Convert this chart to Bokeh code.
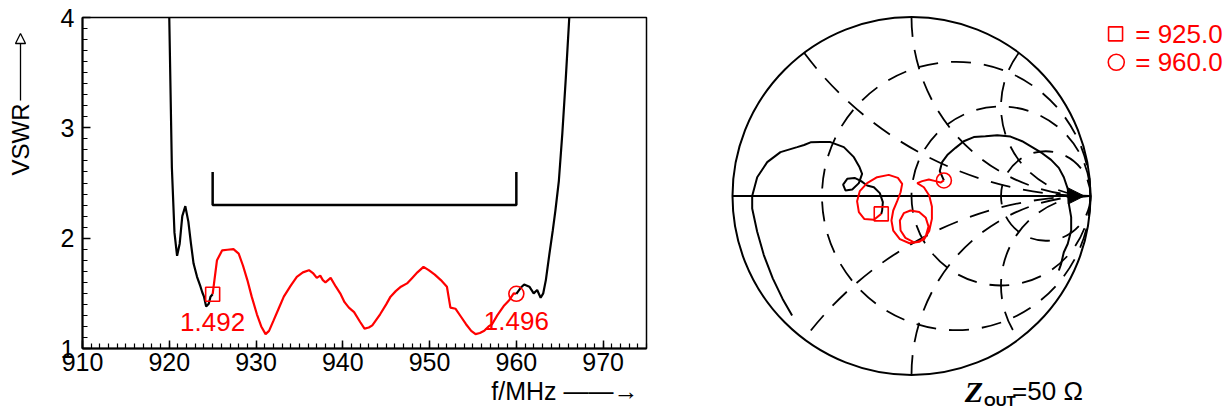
import numpy as np
from bokeh.plotting import figure
from bokeh.layouts import row
from bokeh.models import Range1d, FixedTicker, Title, Arrow, NormalHead
from bokeh.core.properties import value
from bokeh.embed import file_html
from bokeh.resources import INLINE

# ---------------- data: VSWR vs frequency ----------------
black_lo_f = [920.0, 920.3, 920.6, 920.9, 921.2, 921.5, 921.85, 922.2, 922.5, 922.8,
              923.2, 923.6, 923.8, 924.0, 924.25, 924.55, 924.75, 925.0]
black_lo_v = [4.0, 2.64, 2.05, 1.84, 1.95, 2.2, 2.29, 2.15, 1.95, 1.77,
              1.65, 1.56, 1.51, 1.47, 1.38, 1.405, 1.47, 1.492]

red_f = [925.0, 925.5, 926.1, 926.7, 927.4, 928.0, 928.5, 929.0, 929.5, 930.1,
         930.6, 931.1, 931.5, 932.0, 932.6, 933.2, 934.0, 934.7, 935.4, 936.1,
         936.6, 937.0, 937.4, 937.7, 938.0, 938.6, 939.2, 939.7, 940.2, 940.7,
         941.3, 942.0, 942.5, 943.0, 943.4, 944.3, 945.0, 945.5, 946.1, 946.7,
         947.4, 948.0, 948.6, 949.3, 949.9, 950.6, 951.3, 952.0, 952.4, 953.0,
         953.6, 954.2, 954.8, 955.3, 955.8, 956.3, 956.8, 957.2, 957.8, 958.6,
         959.2, 959.7, 960.0]
red_v = [1.492, 1.80, 1.89, 1.895, 1.90, 1.86, 1.75, 1.62, 1.47, 1.31,
         1.20, 1.13, 1.16, 1.25, 1.36, 1.47, 1.57, 1.65, 1.69, 1.71,
         1.68, 1.64, 1.66, 1.62, 1.60, 1.64, 1.56, 1.50, 1.42, 1.37,
         1.33, 1.24, 1.18, 1.19, 1.21, 1.31, 1.40, 1.47, 1.52, 1.56,
         1.59, 1.64, 1.69, 1.74, 1.71, 1.67, 1.62, 1.56, 1.37, 1.36,
         1.29, 1.22, 1.16, 1.13, 1.14, 1.16, 1.20, 1.22, 1.30, 1.39,
         1.44, 1.50, 1.496]

black_hi_f = [960.0, 960.5, 960.9, 961.5, 962.0, 962.4, 962.8, 963.1, 963.4, 963.8,
              964.2, 964.5, 964.9, 965.3, 965.7, 966.1]
black_hi_v = [1.496, 1.55, 1.58, 1.56, 1.50, 1.53, 1.46, 1.50, 1.62, 1.85,
              2.07, 2.25, 2.52, 2.95, 3.45, 4.0]

spec_f = [925, 925, 960, 960]
spec_v = [2.6, 2.3, 2.3, 2.6]

marker_f = [925.0, 960.0]
marker_v = [1.492, 1.496]
marker_labels = ["1.492", "1.496"]

x_ticks = [910, 920, 930, 940, 950, 960, 970]
y_ticks = [1, 2, 3, 4]

# ---------------- data: Smith chart (reflection coefficient) ----------------
smith_lo_re = [-0.667, -0.720, -0.775, -0.825, -0.862, -0.890, -0.890, -0.862, -0.806, -0.732,
               -0.639, -0.600, -0.564, -0.508, -0.453, -0.378, -0.322, -0.290, -0.276, -0.294,
               -0.331, -0.369, -0.382, -0.359, -0.318, -0.281, -0.248, -0.210, -0.177, -0.160,
               -0.164, -0.169]
smith_lo_im = [-0.668, -0.575, -0.460, -0.330, -0.200, -0.070, 0.000, 0.105, 0.189, 0.245,
               0.273, 0.285, 0.300, 0.301, 0.301, 0.273, 0.217, 0.160, 0.124, 0.072,
               0.036, 0.031, 0.064, 0.096, 0.101, 0.083, 0.059, 0.049, 0.016, -0.034,
               -0.081, -0.100]

smith_red_re = [-0.169, -0.210, -0.263, -0.294, -0.304, -0.289, -0.248, -0.192, -0.127, -0.076,
                -0.052, -0.061, -0.080, -0.102, -0.112, -0.102, -0.065, -0.011, 0.045, 0.080,
                0.095, 0.080, 0.043, -0.006, -0.043, -0.065, -0.061, -0.034, 0.017, 0.069,
                0.099, 0.114, 0.114, 0.099, 0.069, 0.032, 0.060, 0.097, 0.134, 0.162, 0.181]
smith_red_im = [-0.100, -0.133, -0.129, -0.090, -0.029, 0.027, 0.072, 0.105, 0.118, 0.101,
                0.068, 0.021, -0.029, -0.081, -0.137, -0.193, -0.241, -0.264, -0.256, -0.223,
                -0.170, -0.122, -0.090, -0.081, -0.096, -0.137, -0.193, -0.234, -0.260, -0.245,
                -0.196, -0.128, -0.059, 0.003, 0.049, 0.072, 0.083, 0.092, 0.083, 0.075, 0.087]

smith_hi_re = [0.181, 0.158, 0.171, 0.203, 0.246, 0.292, 0.348, 0.413, 0.479, 0.553,
               0.618, 0.674, 0.730, 0.780, 0.823, 0.851, 0.873, 0.879, 0.892, 0.892,
               0.873, 0.851, 0.836, 0.823]
smith_hi_im = [0.087, 0.139, 0.189, 0.232, 0.269, 0.306, 0.329, 0.334, 0.340, 0.332,
               0.306, 0.273, 0.239, 0.202, 0.157, 0.105, 0.040, -0.044, -0.118, -0.193,
               -0.267, -0.314, -0.379, -0.416]

r_values = [1 / 3, 1.0, 3.0]
x_values = [0.5, 1.0, 2.0]
legend_freqs = [925.0, 960.0]
z_ref = 50

RED = "#ff0000"
FONT = "Liberation Sans"
H = 408

# ---------------- caption strip for the y-axis name ----------------
lab = figure(width=44, height=H, x_range=Range1d(0, 44), y_range=Range1d(0, H),
             output_backend="svg", toolbar_location=None, x_axis_type=None, y_axis_type=None,
             min_border=0)
lab.grid.visible = False
lab.outline_line_color = None
lab.text(x=[20], y=[H - 139], text=["VSWR"], angle=np.pi / 2, text_align="center",
         text_baseline="middle", text_font=value(FONT), text_font_size="24px", text_color="black")
lab.add_layout(Arrow(x_start=20, y_start=H - 100, x_end=20, y_end=H - 33, line_width=1.3,
                     line_color="black",
                     end=NormalHead(size=10, fill_color="white", line_color="black", line_width=1.3)))

# ---------------- left: VSWR plot ----------------
p = figure(width=646, height=H, x_range=Range1d(910, 975), y_range=Range1d(1, 4),
           output_backend="svg", toolbar_location=None,
           min_border_left=38, min_border_right=44, min_border_top=17, min_border_bottom=60)
p.xgrid.visible = False
p.ygrid.visible = False
p.outline_line_color = "black"
p.outline_line_width = 1.5
p.background_fill_color = "white"
p.border_fill_color = "white"

p.xaxis.ticker = FixedTicker(ticks=x_ticks, minor_ticks=list(np.arange(910, 976, 1)))
p.yaxis.ticker = FixedTicker(ticks=y_ticks, minor_ticks=list(np.round(np.arange(1.0, 4.01, 0.1), 2)))
for ax in (p.xaxis[0], p.yaxis[0]):
    ax.axis_line_width = 2
    ax.axis_line_color = "black"
    ax.major_tick_in = 8
    ax.major_tick_out = 0
    ax.minor_tick_in = 5
    ax.minor_tick_out = 0
    ax.major_tick_line_width = 1.5
    ax.minor_tick_line_width = 1.2
    ax.major_tick_line_color = "black"
    ax.minor_tick_line_color = "black"
    ax.major_label_text_font = FONT
    ax.major_label_text_font_size = "25px"
    ax.major_label_text_color = "black"
p.xaxis.major_label_standoff = 4
p.yaxis.major_label_standoff = 8

p.line(black_lo_f, black_lo_v, line_color="black", line_width=2.2)
p.line(red_f, red_v, line_color=RED, line_width=2.2)
p.line(black_hi_f, black_hi_v, line_color="black", line_width=2.2)
p.line(spec_f, spec_v, line_color="black", line_width=2.5)

p.scatter([marker_f[0]], [marker_v[0]], marker="square", size=14,
          fill_color=None, line_color=RED, line_width=1.6)
p.scatter([marker_f[1]], [marker_v[1]], marker="circle", size=15,
          fill_color=None, line_color=RED, line_width=1.6)
p.text(x=marker_f, y=[v - 0.25 for v in marker_v], text=marker_labels,
       text_align="center", text_baseline="middle", text_color=RED,
       text_font=value(FONT), text_font_size="26px")

p.add_layout(Title(text="f/MHz \u2014\u2014\u2192", align="right", text_font=FONT,
                   text_font_size="25px", text_font_style="normal", text_color="black",
                   standoff=2, offset=8), "below")

# ---------------- right: Smith chart ----------------
s = figure(width=535, height=H, x_range=Range1d(-1.2346, 1.7542), y_range=Range1d(-1.1872, 1.0922),
           output_backend="svg", toolbar_location=None, x_axis_type=None, y_axis_type=None,
           min_border=0)
s.grid.visible = False
s.outline_line_color = None
s.background_fill_color = "white"
s.border_fill_color = "white"

for fig in (lab, p, s):
    try:
        fig.frame_align = False
    except Exception:
        pass

DASH = "20 13"
GRID_W = 1.8
# constant-resistance circles
r_arr = np.array(r_values)
s.circle(x=list(r_arr / (1 + r_arr)), y=[0] * len(r_arr), radius=list(1 / (1 + r_arr)),
         fill_color=None, line_color="black", line_width=GRID_W, line_dash=DASH)
# constant-reactance arcs, starting at the outer circle
xa = np.array(x_values)
gr = (xa ** 2 - 1) / (xa ** 2 + 1)
gi = 2 * xa / (xa ** 2 + 1)
ang_up = np.mod(np.arctan2(gi - 1 / xa, gr - 1), 2 * np.pi)
ang_dn = np.mod(-ang_up, 2 * np.pi)
s.arc(x=[1] * len(xa), y=list(1 / xa), radius=list(1 / xa), start_angle=list(ang_up),
      end_angle=[1.5 * np.pi] * len(xa), direction="anticlock",
      line_color="black", line_width=GRID_W, line_dash=DASH)
unit = xa == 1.0
s.arc(x=[1] * int(unit.sum()), y=list(-1 / xa[unit]), radius=list(1 / xa[unit]),
      start_angle=list(ang_dn[unit]), end_angle=[0.5 * np.pi] * int(unit.sum()), direction="clock",
      line_color="black", line_width=GRID_W, line_dash=DASH)
s.arc(x=[1] * int((~unit).sum()), y=list(-1 / xa[~unit]), radius=list(1 / xa[~unit]),
      start_angle=list(ang_dn[~unit]), end_angle=[0.5 * np.pi] * int((~unit).sum()), direction="clock",
      line_color="black", line_width=GRID_W, line_dash=DASH, line_dash_offset=22)

# outer circle and real axis
s.circle(x=[0], y=[0], radius=[1.0], fill_color=None, line_color="black", line_width=2)
s.line([-1, 1], [0, 0], line_color="black", line_width=2)
s.add_layout(Arrow(x_start=0.80, y_start=0, x_end=0.965, y_end=0, line_width=2, line_color="black",
                   end=NormalHead(size=16, fill_color="black", line_color="black", line_width=1)))

# traces
s.line(smith_lo_re, smith_lo_im, line_color="black", line_width=2)
s.line(smith_hi_re, smith_hi_im, line_color="black", line_width=2)
s.line(smith_red_re, smith_red_im, line_color=RED, line_width=2)
s.scatter([smith_red_re[0]], [smith_red_im[0]], marker="square", size=14,
          fill_color=None, line_color=RED, line_width=1.6)
s.scatter([smith_red_re[-1]], [smith_red_im[-1]], marker="circle", size=15,
          fill_color=None, line_color=RED, line_width=1.6)

# legend (top right)
leg_y = [0.906, 0.747]
s.scatter([1.140], [leg_y[0]], marker="square", size=14, fill_color=None, line_color=RED, line_width=1.6)
s.scatter([1.144], [leg_y[1]], marker="circle", size=16, fill_color=None, line_color=RED, line_width=1.6)
s.text(x=[1.250, 1.250], y=leg_y, text=["=  %.1f" % f for f in legend_freqs],
       text_align="left", text_baseline="middle", text_color=RED,
       text_font=value(FONT), text_font_size="26px")

# Z_OUT label
s.text(x=[0.298], y=[-1.090], text=["Z"], text_align="left", text_baseline="middle",
       text_font=value("Liberation Serif"), text_font_style="bold italic",
       text_font_size="30px", text_color="black")
s.text(x=[0.405], y=[-1.142], text=["OUT"], text_align="left", text_baseline="middle",
       text_font=value(FONT), text_font_style="bold", text_font_size="15px", text_color="black")
s.text(x=[0.562], y=[-1.090], text=["=%d  \u03a9" % z_ref], text_align="left", text_baseline="middle",
       text_font=value(FONT), text_font_size="26px", text_color="black")

layout = row(lab, p, s)
open("out.html", "w").write(file_html(layout, INLINE))
